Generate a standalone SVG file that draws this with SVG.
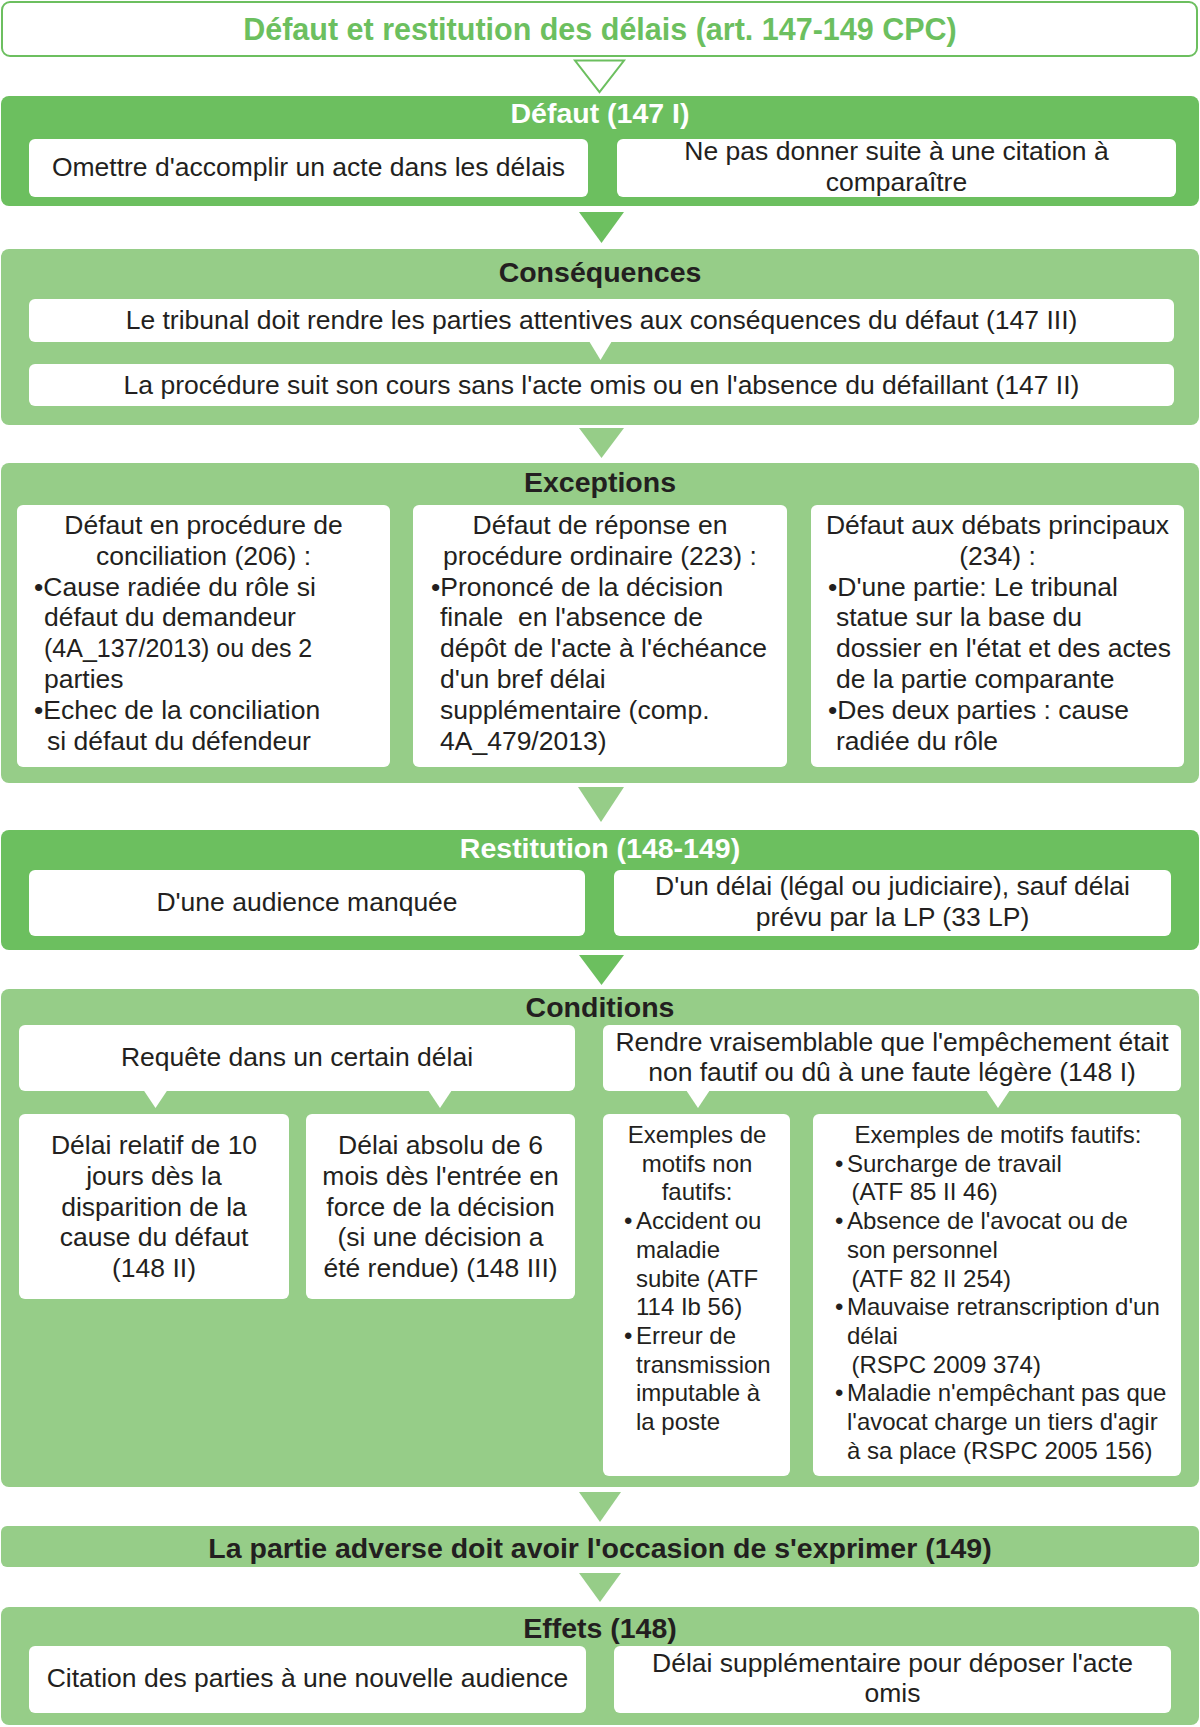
<svg xmlns="http://www.w3.org/2000/svg" width="1200" height="1727" viewBox="0 0 1200 1727">
<style>
text{font-family:"Liberation Sans",Arial,Helvetica,sans-serif;fill:#231f20}
.t{font-size:30.5px;font-weight:bold;fill:#6cbf5f;text-anchor:middle}
.h{font-size:28.5px;font-weight:bold;text-anchor:middle}
.hw{fill:#ffffff}
.b{font-size:26.5px}
.c{text-anchor:middle}
.s{font-size:24px}
.dk{fill:#6cbf5f}
.lt{fill:#96cd88}
.wb{fill:#ffffff}
</style>
<rect width="1200" height="1727" fill="#ffffff"/>
<g id="connectors">
<polygon points="575,60.5 624,60.5 599.5,92" fill="#ffffff" stroke="#6cbf5f" stroke-width="2"/>
<polygon class="dk" points="579,212 624,212 601.5,243"/>
<polygon class="lt" points="579,428 624,428 601.5,458"/>
<polygon class="lt" points="578,787 624,787 601,822"/>
<polygon class="dk" points="579,955 624,955 601.5,985"/>
<polygon class="lt" points="579,1492 621,1492 600,1522"/>
<polygon class="lt" points="579,1573 621,1573 600,1602"/>
</g>
<g id="title">
<rect x="2" y="2" width="1195" height="54" rx="8" fill="#ffffff" stroke="#6cbf5f" stroke-width="2"/>
<text class="t" x="600" y="39.5">Défaut et restitution des délais (art. 147-149 CPC)</text>
</g>
<g id="defaut">
<rect class="dk" x="1" y="96" width="1198" height="110" rx="8"/>
<text class="h hw" x="600" y="123">Défaut (147 I)</text>
<rect class="wb" x="29" y="139" width="559" height="58" rx="6"/>
<text class="b c" x="308.5" y="176">Omettre d'accomplir un acte dans les délais</text>
<rect class="wb" x="617" y="139" width="559" height="58" rx="6"/>
<text class="b c" x="896.5" y="160">Ne pas donner suite à une citation à</text>
<text class="b c" x="896.5" y="190.5">comparaître</text>
</g>
<g id="consequences">
<rect class="lt" x="1" y="249" width="1198" height="176" rx="8"/>
<text class="h" x="600" y="281.5">Conséquences</text>
<rect class="wb" x="29" y="299" width="1145" height="43" rx="6"/>
<text class="b c" x="601.5" y="328.5">Le tribunal doit rendre les parties attentives aux conséquences du défaut (147 III)</text>
<polygon class="wb" points="589,341 612,341 600.5,360"/>
<rect class="wb" x="29" y="364" width="1145" height="42" rx="6"/>
<text class="b c" x="601.5" y="393.5">La procédure suit son cours sans l'acte omis ou en l'absence du défaillant (147 II)</text>
</g>
<g id="exceptions">
<rect class="lt" x="1" y="463" width="1198" height="320" rx="8"/>
<text class="h" x="600" y="491.5">Exceptions</text>
<rect class="wb" x="17" y="505" width="373" height="262" rx="6"/>
<text class="b c" x="203.5" y="534">Défaut en procédure de</text>
<text class="b c" x="203.5" y="564.8">conciliation (206) :</text>
<text class="b" x="34" y="595.6">•Cause radiée du rôle si</text>
<text class="b" x="44" y="626.4">défaut du demandeur</text>
<text class="b" x="44" y="657.2" style="font-size:25px">(4A_137/2013) ou des 2</text>
<text class="b" x="44" y="688">parties</text>
<text class="b" x="34" y="718.8">•Echec de la conciliation</text>
<text class="b" x="47" y="749.6">si défaut du défendeur</text>
<rect class="wb" x="413" y="505" width="374" height="262" rx="6"/>
<text class="b c" x="600" y="534">Défaut de réponse en</text>
<text class="b c" x="600" y="564.8">procédure ordinaire (223) :</text>
<text class="b" x="431" y="595.6">•Prononcé de la décision</text>
<text class="b" x="440" y="626.4" xml:space="preserve">finale  en l'absence de</text>
<text class="b" x="440" y="657.2">dépôt de l'acte à l'échéance</text>
<text class="b" x="440" y="688">d'un bref délai</text>
<text class="b" x="440" y="718.8">supplémentaire (comp.</text>
<text class="b" x="440" y="749.6">4A_479/2013)</text>
<rect class="wb" x="811" y="505" width="373" height="262" rx="6"/>
<text class="b c" x="997.5" y="534">Défaut aux débats principaux</text>
<text class="b c" x="997.5" y="564.8">(234) :</text>
<text class="b" x="828" y="595.6">•D'une partie: Le tribunal</text>
<text class="b" x="836" y="626.4">statue sur la base du</text>
<text class="b" x="836" y="657.2">dossier en l'état et des actes</text>
<text class="b" x="836" y="688">de la partie comparante</text>
<text class="b" x="828" y="718.8">•Des deux parties : cause</text>
<text class="b" x="836" y="749.6">radiée du rôle</text>
</g>
<g id="restitution">
<rect class="dk" x="1" y="830" width="1198" height="120" rx="8"/>
<text class="h hw" x="600" y="858">Restitution (148-149)</text>
<rect class="wb" x="29" y="870" width="556" height="66" rx="6"/>
<text class="b c" x="307" y="911">D'une audience manquée</text>
<rect class="wb" x="614" y="870" width="557" height="66" rx="6"/>
<text class="b c" x="892.5" y="895">D'un délai (légal ou judiciaire), sauf délai</text>
<text class="b c" x="892.5" y="925.5">prévu par la LP (33 LP)</text>
</g>
<g id="conditions">
<rect class="lt" x="1" y="989" width="1198" height="498" rx="8"/>
<text class="h" x="600" y="1017">Conditions</text>
<rect class="wb" x="19" y="1025" width="556" height="66" rx="6"/>
<text class="b c" x="297" y="1066">Requête dans un certain délai</text>
<polygon class="wb" points="143.5,1090 167.5,1090 155.5,1108"/>
<polygon class="wb" points="428,1090 452,1090 440,1108"/>
<rect class="wb" x="603" y="1025" width="578" height="66" rx="6"/>
<text class="b c" x="892" y="1050.5">Rendre vraisemblable que l'empêchement était</text>
<text class="b c" x="892" y="1081">non fautif ou dû à une faute légère (148 I)</text>
<polygon class="wb" points="686,1090 710,1090 698,1108"/>
<polygon class="wb" points="986,1090 1010,1090 998,1108"/>
<rect class="wb" x="19" y="1114" width="270" height="185" rx="6"/>
<text class="b c" x="154" y="1154">Délai relatif de 10</text>
<text class="b c" x="154" y="1184.8">jours dès la</text>
<text class="b c" x="154" y="1215.6">disparition de la</text>
<text class="b c" x="154" y="1246.4">cause du défaut</text>
<text class="b c" x="154" y="1277.2">(148 II)</text>
<rect class="wb" x="306" y="1114" width="269" height="185" rx="6"/>
<text class="b c" x="440.5" y="1154">Délai absolu de 6</text>
<text class="b c" x="440.5" y="1184.8">mois dès l'entrée en</text>
<text class="b c" x="440.5" y="1215.6">force de la décision</text>
<text class="b c" x="440.5" y="1246.4">(si une décision a</text>
<text class="b c" x="440.5" y="1277.2">été rendue) (148 III)</text>
<rect class="wb" x="603" y="1114" width="187" height="362" rx="6"/>
<text class="s c" x="697" y="1143">Exemples de</text>
<text class="s c" x="697" y="1171.7">motifs non</text>
<text class="s c" x="697" y="1200.4">fautifs:</text>
<text class="s" x="624" y="1229.1">•</text>
<text class="s" x="636" y="1229.1">Accident ou</text>
<text class="s" x="636" y="1257.8">maladie</text>
<text class="s" x="636" y="1286.5">subite (ATF</text>
<text class="s" x="636" y="1315.2">114 Ib 56)</text>
<text class="s" x="624" y="1343.9">•</text>
<text class="s" x="636" y="1343.9">Erreur de</text>
<text class="s" x="636" y="1372.6">transmission</text>
<text class="s" x="636" y="1401.3">imputable à</text>
<text class="s" x="636" y="1430">la poste</text>
<rect class="wb" x="813" y="1114" width="368" height="362" rx="6"/>
<text class="s c" x="998" y="1143">Exemples de motifs fautifs:</text>
<text class="s" x="835" y="1171.7">•</text>
<text class="s" x="847" y="1171.7">Surcharge de travail</text>
<text class="s" x="851.5" y="1200.4">(ATF 85 II 46)</text>
<text class="s" x="835" y="1229.1">•</text>
<text class="s" x="847" y="1229.1">Absence de l'avocat ou de</text>
<text class="s" x="847" y="1257.8">son personnel</text>
<text class="s" x="851.5" y="1286.5">(ATF 82 II 254)</text>
<text class="s" x="835" y="1315.2">•</text>
<text class="s" x="847" y="1315.2">Mauvaise retranscription d'un</text>
<text class="s" x="847" y="1343.9">délai</text>
<text class="s" x="851.5" y="1372.6">(RSPC 2009 374)</text>
<text class="s" x="835" y="1401.3">•</text>
<text class="s" x="847" y="1401.3">Maladie n'empêchant pas que</text>
<text class="s" x="847" y="1430">l'avocat charge un tiers d'agir</text>
<text class="s" x="847" y="1458.7">à sa place (RSPC 2005 156)</text>
</g>
<g id="partie-adverse">
<rect class="lt" x="1" y="1526" width="1198" height="41" rx="6"/>
<text class="h" x="600" y="1557.5">La partie adverse doit avoir l'occasion de s'exprimer (149)</text>
</g>
<g id="effets">
<rect class="lt" x="1" y="1607" width="1198" height="118" rx="8"/>
<text class="h" x="600" y="1638">Effets (148)</text>
<rect class="wb" x="29" y="1646" width="557" height="67" rx="6"/>
<text class="b c" x="307.5" y="1687">Citation des parties à une nouvelle audience</text>
<rect class="wb" x="614" y="1646" width="557" height="67" rx="6"/>
<text class="b c" x="892.5" y="1672">Délai supplémentaire pour déposer l'acte</text>
<text class="b c" x="892.5" y="1702">omis</text>
</g>
</svg>
